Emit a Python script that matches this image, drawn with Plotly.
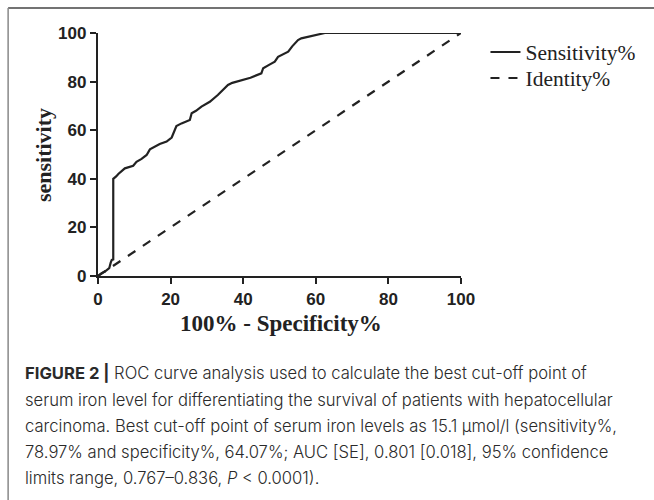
import plotly.graph_objects as go

# ---- data ----
fpr = [0, 0.5, 1, 1.9, 2.5, 3.1, 3.5, 3.8, 4.2, 4.2, 5, 5.6, 7.4, 9.7, 10.6, 12, 13.4, 14.3, 17, 18.9,
       20.3, 20.7, 21.6, 23, 25.3, 25.8, 27, 28.5, 30.8, 33, 35.8, 37, 40, 42, 45, 45.5, 47, 48.7,
       49.6, 51, 52.4, 53.5, 55.1, 56, 59, 62.5, 100]
tpr = [0, 0.8, 1.2, 1.8, 2.6, 3.2, 5.5, 6.6, 6.8, 40, 41, 42, 44.3, 45.4, 47, 48.2, 49.8, 52.1, 54.3, 55.3,
       57, 58.7, 61.7, 62.8, 64.2, 67, 68, 69.7, 71.7, 74.5, 78.6, 79.5, 80.7, 81.6, 83.4, 85.5, 86.8, 88.2,
       90.2, 91.4, 92.3, 94.5, 97.1, 97.8, 98.8, 100, 100]
identity = [0, 100]
x_ticks = [0, 20, 40, 60, 80, 100]
y_ticks = [0, 20, 40, 60, 80, 100]
series_names = ["Sensitivity%", "Identity%"]
x_title = "100% - Specificity%"
y_title = "sensitivity"
caption_lines = [
    "<b>FIGURE 2 |</b> ROC curve analysis used to calculate the best cut-off point of",
    "serum iron level for differentiating the survival of patients with hepatocellular",
    "carcinoma. Best cut-off point of serum iron levels as 15.1 \u03bcmol/l (sensitivity%,",
    "78.97% and specificity%, 64.07%; AUC [SE], 0.801 [0.018], 95% confidence",
    "limits range, 0.767\u20130.836, <i>P</i> &lt; 0.0001).",
]

W, H = 654, 500
L, R, T, B = 98, 461.5, 33, 276  # plot area pixel bounds


def px(xp):
    return (xp - L) / (R - L)


def py(yp):
    return (B - yp) / (B - T)


LINE = "#222222"
fig = go.Figure()
fig.add_trace(go.Scatter(x=fpr, y=tpr, mode="lines", name=series_names[0],
                         line=dict(color=LINE, width=2.2), cliponaxis=False, legend="legend"))
fig.add_trace(go.Scatter(x=identity, y=identity, mode="lines", name=series_names[1],
                         line=dict(color=LINE, width=2.2, dash="dash"), cliponaxis=False,
                         legend="legend2"))

axis_common = dict(showgrid=False, zeroline=False, showline=True, linecolor=LINE, linewidth=2.4,
                   ticks="outside", ticklen=6, tickwidth=2, tickcolor=LINE,
                   tickfont=dict(family="Liberation Sans, Arial", size=17, color=LINE, weight="bold"))
fig.update_xaxes(range=[0, 100], tickvals=x_ticks, **axis_common)
fig.update_yaxes(range=[0, 100], tickvals=y_ticks, **axis_common)

serif = "Liberation Serif, Times New Roman, serif"
annotations = [
    dict(text=f"<b>{x_title}</b>", x=px(281), y=py(323), xref="paper", yref="paper",
         xanchor="center", yanchor="middle",
         showarrow=False, font=dict(family=serif, size=23, color=LINE)),
    dict(text=f"<b>{y_title}</b>", x=px(43), y=py(155), xref="paper", yref="paper",
         xanchor="center", yanchor="middle",
         showarrow=False, textangle=-90, font=dict(family=serif, size=22, color=LINE)),
]
cap_y = [373, 400, 426, 452, 478]
for txt, yy in zip(caption_lines, cap_y):
    annotations.append(dict(text=txt, x=px(23), y=py(yy), xref="paper", yref="paper",
                            xanchor="left", yanchor="middle", showarrow=False,
                            font=dict(family="Inter, Liberation Sans, Arial", size=16.6,
                                      color="#2a2a2a", weight=300)))

shapes = [
    dict(type="line", xref="paper", yref="paper", x0=px(8), x1=px(660), y0=py(8), y1=py(8),
         line=dict(color="#444444", width=1.5)),
    dict(type="line", xref="paper", yref="paper", x0=px(8), x1=px(8), y0=py(8), y1=py(505),
         line=dict(color="#888888", width=1.5)),
]

leg_common = dict(xanchor="left", yanchor="middle", bgcolor="rgba(0,0,0,0)",
                  font=dict(family=serif, size=21.5, color=LINE), itemwidth=30)
fig.update_layout(
    width=W, height=H, autosize=False,
    margin=dict(l=L, r=W - R, t=T, b=H - B, pad=0),
    paper_bgcolor="white", plot_bgcolor="white",
    showlegend=True,
    legend=dict(x=px(486), y=py(52), **leg_common),
    legend2=dict(x=px(486), y=py(78), **leg_common),
    annotations=annotations, shapes=shapes,
)

fig.write_html("out.html")
